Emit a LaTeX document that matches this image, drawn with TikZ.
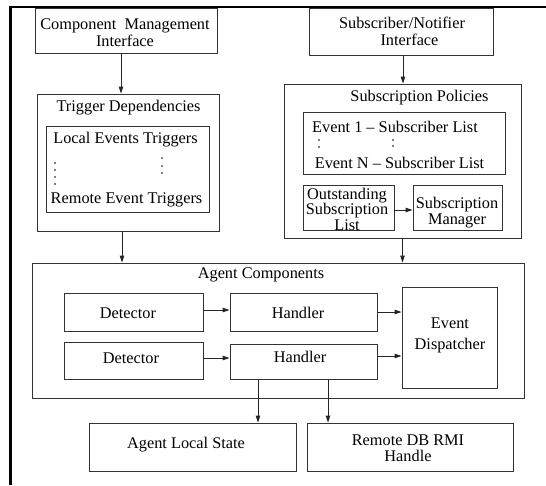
\documentclass[tikz,border=0pt]{standalone}
\usepackage{fontspec}
\setmainfont{Liberation Serif}
\usetikzlibrary{arrows.meta}
\begin{document}
\begin{tikzpicture}[x=1pt,y=-1pt,
  box/.style={draw=black!80, line width=0.9pt, inner sep=0pt},
  txt/.style={font=\fontsize{16.3}{17}\selectfont, inner sep=0pt, align=center},
  arr/.style={draw=black!85, line width=0.9pt, -{Triangle[length=7pt,width=4.5pt]}},
  frame/.style={line width=2.6pt, line join=miter}]
\useasboundingbox (0,0) rectangle (546,485);

% interfaces at the top
\node[box, minimum width=182pt, minimum height=45pt] (cmi) at (126,30.5) {};
\node[txt] (cmi-t) at (125,32.5) {Component~ Management\\Interface\hspace{19pt}};
\node[box, minimum width=184pt, minimum height=47pt] (sni) at (401,31.5) {};
\node[txt] (sni-t) at (402,31.5) {Subscriber/Notifier\\\hspace{15pt}Interface};

% trigger dependencies
\node[box, minimum width=182pt, minimum height=137pt] (trig) at (128,162.5) {};
\node[txt] (trig-t) at (128.5,108) {Trigger Dependencies};
\node[box, minimum width=163pt, minimum height=86pt] (trigin) at (127.5,169) {};
\node[txt] (loc) at (125.5,140) {Local Events Triggers};
\node[txt] (rem) at (126.5,200) {Remote Event Triggers};
\foreach \y in {163,170,177,184} \fill (55,\y) circle (0.9pt);
\foreach \y in {158,166,173} \fill (162,\y) circle (0.9pt);

% subscription policies
\node[box, minimum width=237pt, minimum height=154pt] (subpol) at (402.5,161) {};
\node[txt] (subpol-t) at (419.5,98) {Subscription Policies};
\node[box, minimum width=202pt, minimum height=62pt] (evl) at (404,143) {};
\node[txt] (ev1) at (395,127) {Event 1 -- Subscriber List};
\node[txt] (evn) at (399.5,163) {Event N -- Subscriber List};
\foreach \y in {140,147} \fill (319,\y) circle (0.9pt);
\foreach \y in {140,146} \fill (393,\y) circle (0.9pt);
\node[box, minimum width=91pt, minimum height=45pt] (osl) at (348.5,207.5) {};
\node[txt, font=\fontsize{16.3}{15.5}\selectfont] (osl-t) at (347,209)
  {Outstanding\\Subscription\\List\hspace{10pt}};
\node[box, minimum width=89pt, minimum height=45pt] (sm) at (457.5,207.5) {};
\node[txt, font=\fontsize{16.3}{16}\selectfont] (sm-t) at (457,213) {Subscription\\Manager};

% agent components
\node[box, minimum width=492pt, minimum height=135pt] (agent) at (278,330.5) {};
\node[txt] (agent-t) at (261,275) {Agent Components};
\node[box, minimum width=139pt, minimum height=38pt] (det1) at (133.5,312) {};
\node[txt] (det1-t) at (128,313) {Detector};
\node[box, minimum width=139pt, minimum height=37pt] (det2) at (133.5,360.5) {};
\node[txt] (det2-t) at (131,358) {Detector};
\node[box, minimum width=147pt, minimum height=38pt] (h1) at (303.5,312) {};
\node[txt] (h1-t) at (298,313) {Handler};
\node[box, minimum width=147pt, minimum height=35pt] (h2) at (303.5,361.5) {};
\node[txt] (h2-t) at (300,357) {Handler};
\node[box, minimum width=95pt, minimum height=101pt] (ed) at (449.5,338) {};
\node[txt, font=\fontsize{16.3}{21}\selectfont] (ed-t) at (450,335) {Event\\Dispatcher};

% state and remote handle
\node[box, minimum width=207pt, minimum height=48pt] (als) at (192.5,447) {};
\node[txt] (als-t) at (186,445) {Agent Local State};
\node[box, minimum width=206pt, minimum height=48pt] (rdb) at (410,447) {};
\node[txt, font=\fontsize{16.3}{16}\selectfont] (rdb-t) at (408,448) {Remote DB RMI\\Handle};

% connectors
\draw[arr] ([xshift=-5pt]cmi.south) coordinate (a1) -- (a1 |- trig.north);
\draw[arr] ([xshift=2pt]sni.south) coordinate (a2) -- (a2 |- subpol.north);
\draw[arr] ([xshift=-6pt]trig.south) coordinate (a3) -- (a3 |- agent.north);
\draw[arr] (subpol.south) -- (subpol.south |- agent.north);
\draw[arr] ([yshift=-2.5pt]osl.east) coordinate (a4) -- (a4 -| sm.west);
\draw[arr] ([yshift=2pt]det1.east) coordinate (a5) -- (a5 -| h1.west);
\draw[arr] ([yshift=2.5pt]det2.east) coordinate (a6) -- (a6 -| h2.west);
\draw[arr] (h1.east) -- (h1.east -| ed.west);
\draw[arr] ([yshift=5.5pt]h2.east) coordinate (a7) -- (a7 -| ed.west);
\draw[arr] ([xshift=-45.5pt]h2.south) coordinate (a8) -- (a8 |- als.north);
\draw[arr] ([xshift=24.5pt]h2.south) coordinate (a9) -- (a9 |- rdb.north);

% page frame: top rule and left rule
\coordinate (fr-end) at (546,7);
\coordinate (fr-corner) at (10.5,7);
\coordinate (fr-foot) at (10.5,485);
\draw[frame] (fr-end) -- (fr-corner) -- (fr-foot);
\end{tikzpicture}
\end{document}
